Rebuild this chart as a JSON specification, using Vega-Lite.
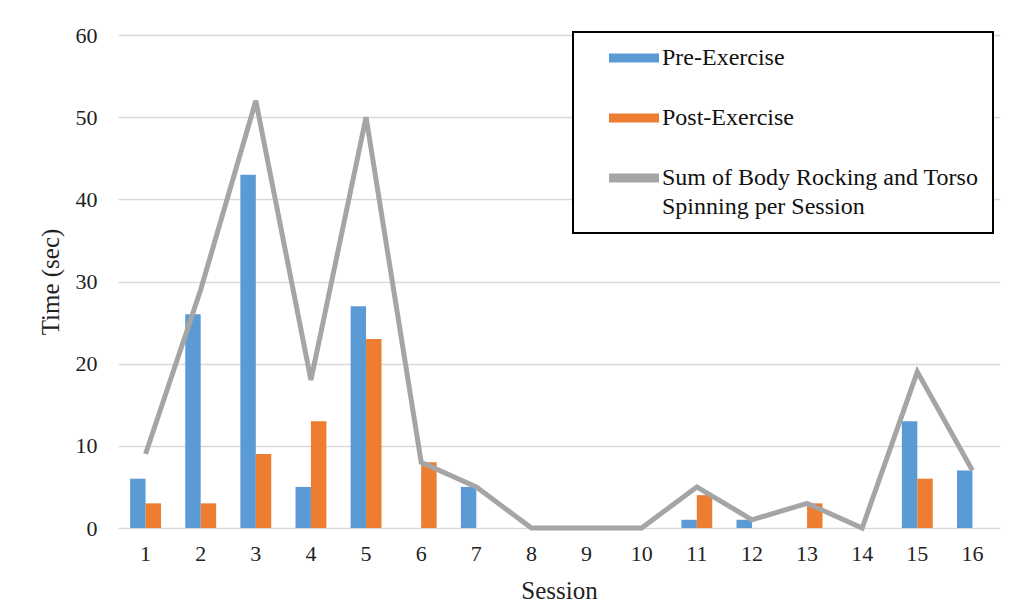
{
  "$schema": "https://vega.github.io/schema/vega-lite/v6.json",
  "autosize": "none",
  "width": 882,
  "height": 493,
  "padding": {"left": 118, "top": 35, "right": 18, "bottom": 80},
  "background": "#ffffff",
  "data": {
    "values": [
      {"Session": 1, "Pre-Exercise": 6, "Post-Exercise": 3, "Sum": 9},
      {"Session": 2, "Pre-Exercise": 26, "Post-Exercise": 3, "Sum": 29},
      {"Session": 3, "Pre-Exercise": 43, "Post-Exercise": 9, "Sum": 52},
      {"Session": 4, "Pre-Exercise": 5, "Post-Exercise": 13, "Sum": 18},
      {"Session": 5, "Pre-Exercise": 27, "Post-Exercise": 23, "Sum": 50},
      {"Session": 6, "Pre-Exercise": 0, "Post-Exercise": 8, "Sum": 8},
      {"Session": 7, "Pre-Exercise": 5, "Post-Exercise": 0, "Sum": 5},
      {"Session": 8, "Pre-Exercise": 0, "Post-Exercise": 0, "Sum": 0},
      {"Session": 9, "Pre-Exercise": 0, "Post-Exercise": 0, "Sum": 0},
      {"Session": 10, "Pre-Exercise": 0, "Post-Exercise": 0, "Sum": 0},
      {"Session": 11, "Pre-Exercise": 1, "Post-Exercise": 4, "Sum": 5},
      {"Session": 12, "Pre-Exercise": 1, "Post-Exercise": 0, "Sum": 1},
      {"Session": 13, "Pre-Exercise": 0, "Post-Exercise": 3, "Sum": 3},
      {"Session": 14, "Pre-Exercise": 0, "Post-Exercise": 0, "Sum": 0},
      {"Session": 15, "Pre-Exercise": 13, "Post-Exercise": 6, "Sum": 19},
      {"Session": 16, "Pre-Exercise": 7, "Post-Exercise": 0, "Sum": 7}
    ]
  },
  "encoding": {
    "x": {
      "field": "Session",
      "type": "ordinal",
      "scale": {"paddingInner": 0.44, "paddingOuter": 0.22},
      "axis": {
        "title": "Session",
        "labelAngle": 0,
        "labelPadding": 15,
        "titlePadding": 14,
        "ticks": false,
        "domain": false
      }
    }
  },
  "layer": [
    {
      "transform": [{"fold": ["Pre-Exercise", "Post-Exercise"], "as": ["Series", "Value"]}],
      "mark": {"type": "bar"},
      "encoding": {
        "xOffset": {"field": "Series", "type": "nominal", "scale": {"domain": ["Pre-Exercise", "Post-Exercise"], "paddingInner": 0, "paddingOuter": 0}},
        "y": {
          "field": "Value",
          "type": "quantitative",
          "scale": {"domain": [0, 60]},
          "axis": {
            "title": "Time (sec)",
            "values": [0, 10, 20, 30, 40, 50, 60],
            "ticks": false,
            "domain": false,
            "labelPadding": 21,
            "titlePadding": 12
          }
        },
        "color": {
          "field": "Series",
          "type": "nominal",
          "scale": {
            "domain": ["Pre-Exercise", "Post-Exercise", "Sum of Body Rocking and Torso Spinning per Session"],
            "range": ["#5B9BD5", "#ED7D31", "#A5A5A5"]
          },
          "legend": {
            "orient": "none",
            "legendX": 455,
            "legendY": -3,
            "title": null,
            "symbolType": "M-2.5,-0.45L2.5,-0.45L2.5,0.45L-2.5,0.45Z",
            "symbolSize": 400,
            "symbolOffset": 35,
            "labelFont": "Liberation Serif",
            "labelFontSize": 24,
            "labelColor": "#111111",
            "labelLimit": 500,
            "labelOffset": 16,
            "rowPadding": 36,
            "padding": 14,
            "strokeColor": "#000000",
            "fillColor": "#ffffff",
            "labelExpr": "datum.label == 'Sum of Body Rocking and Torso Spinning per Session' ? ['Sum of Body Rocking and Torso', 'Spinning per Session'] : datum.label",
            "encode": {
              "symbols": {"update": {"fill": {"scale": "color", "field": "value"}, "strokeWidth": {"value": 0}, "opacity": {"value": 1}, "fillOpacity": {"value": 1}}},
              "labels": {"update": {"lineHeight": {"value": 29}}}
            }
          }
        }
      }
    },
    {
      "mark": {"type": "line", "strokeWidth": 5, "strokeJoin": "miter"},
      "encoding": {
        "y": {"field": "Sum", "type": "quantitative"},
        "color": {"datum": "Sum of Body Rocking and Torso Spinning per Session"}
      }
    }
  ],
  "config": {
    "view": {"stroke": null},
    "font": "Liberation Serif",
    "axis": {
      "labelFont": "Liberation Serif",
      "titleFont": "Liberation Serif",
      "labelFontSize": 22,
      "titleFontSize": 25,
      "titleFontWeight": "normal",
      "labelColor": "#222222",
      "titleColor": "#222222",
      "gridColor": "#D9D9D9",
      "gridWidth": 1.3
    },
    "axisX": {"grid": false},
    "legend": {"strokeWidth": 2}
  }
}
